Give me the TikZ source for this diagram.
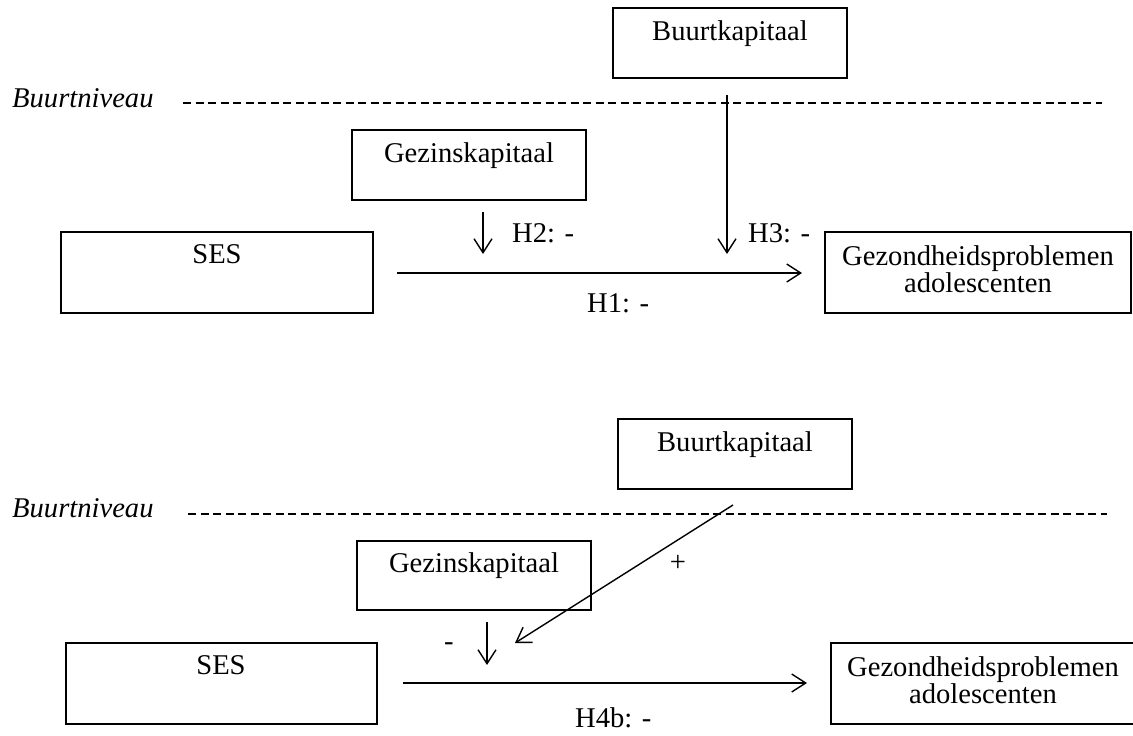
\documentclass[tikz,border=0pt]{standalone}
\usepackage{fontspec}
\setmainfont{Liberation Serif}
\usetikzlibrary{arrows.meta}
\begin{document}
\begin{tikzpicture}[x=1pt,y=-1pt,
  box/.style={draw, line width=1.6pt, inner sep=0pt, outer sep=0pt, anchor=north west},
  txt/.style={anchor=base, inner sep=0pt, font=\fontsize{28.6}{28}\selectfont},
  lbl/.style={anchor=base west, inner sep=0pt, font=\fontsize{28.6}{28}\selectfont},
  lvltxt/.style={anchor=base west, inner sep=0pt, font=\fontsize{28.6}{28}\selectfont\itshape},
  arr/.style={line width=1.4pt, -{Straight Barb[length=14pt,width=18pt,line width=1.4pt]}},
  lvl/.style={line width=1.8pt, dash pattern=on 8pt off 4.5pt}]
\useasboundingbox (0,0) rectangle (1133,736);
\clip (0,0) rectangle (1133,736);

% ---------- top diagram ----------
\node[box, minimum width=234pt, minimum height=70pt] (bk1) at (613,8) {};
\node[txt] (bk1t) at (730,40) {Buurtkapitaal};
\node[box, minimum width=234pt, minimum height=70pt] (gz1) at (352,130) {};
\node[txt] (gz1t) at (469,162) {Gezinskapitaal};
\node[box, minimum width=312pt, minimum height=81pt] (ses1) at (61,232) {};
\node[txt] (ses1t) at (217,263) {SES};
\node[box, minimum width=306pt, minimum height=81pt] (gp1) at (825,232) {};
\node[txt] (gp1a) at (978,265) {Gezondheidsproblemen};
\node[txt] (gp1b) at (978,292) {adolescenten};

\node[lvltxt] (lv1) at (12,107) {Buurtniveau};
\coordinate (d1a) at (183,103);
\coordinate (d1b) at (1102,103);
\draw[lvl] (d1a) -- (d1b);

\coordinate (m1a) at (397,273);
\coordinate (m1b) at (802,273);
\draw[arr] (m1a) -- (m1b);
\coordinate (g1a) at (483,212);
\coordinate (g1b) at (483,254);
\draw[arr] (g1a) -- (g1b);
\coordinate (b1a) at (727,95);
\coordinate (b1b) at (727,254);
\draw[arr] (b1a) -- (b1b);

\node[lbl] (h2) at (512,242) {H2: -};
\node[lbl] (h3) at (748,242) {H3: -};
\node[lbl] (h1) at (587,312) {H1: -};

% ---------- bottom diagram ----------
\node[box, minimum width=234pt, minimum height=70pt] (bk2) at (618,419) {};
\node[txt] (bk2t) at (735,451) {Buurtkapitaal};
\node[box, minimum width=234pt, minimum height=69pt] (gz2) at (357,541) {};
\node[txt] (gz2t) at (474,572) {Gezinskapitaal};
\node[box, minimum width=311pt, minimum height=81pt] (ses2) at (66,643) {};
\node[txt] (ses2t) at (221,674) {SES};
\node[box, minimum width=305pt, minimum height=81pt] (gp2) at (831,643) {};
\node[txt] (gp2a) at (983,676) {Gezondheidsproblemen};
\node[txt] (gp2b) at (983,703) {adolescenten};

\node[lvltxt] (lv2) at (12,517) {Buurtniveau};
\coordinate (d2a) at (188,514);
\coordinate (d2b) at (1107,514);
\draw[lvl] (d2a) -- (d2b);

\coordinate (m2a) at (403,683);
\coordinate (m2b) at (807,683);
\draw[arr] (m2a) -- (m2b);
\coordinate (g2a) at (487,622);
\coordinate (g2b) at (487,665);
\draw[arr] (g2a) -- (g2b);
\coordinate (b2a) at (733,505);
\coordinate (b2b) at (515,643);
\draw[arr] (b2a) -- (b2b);

\node[inner sep=0pt, font=\fontsize{28.6}{28}\selectfont] (plus) at (678,563) {+};
\node[inner sep=0pt, font=\fontsize{28.6}{28}\selectfont] (minus) at (449,647) {-};
\node[lbl] (h4b) at (575,727) {H4b: -};
\end{tikzpicture}
\end{document}
